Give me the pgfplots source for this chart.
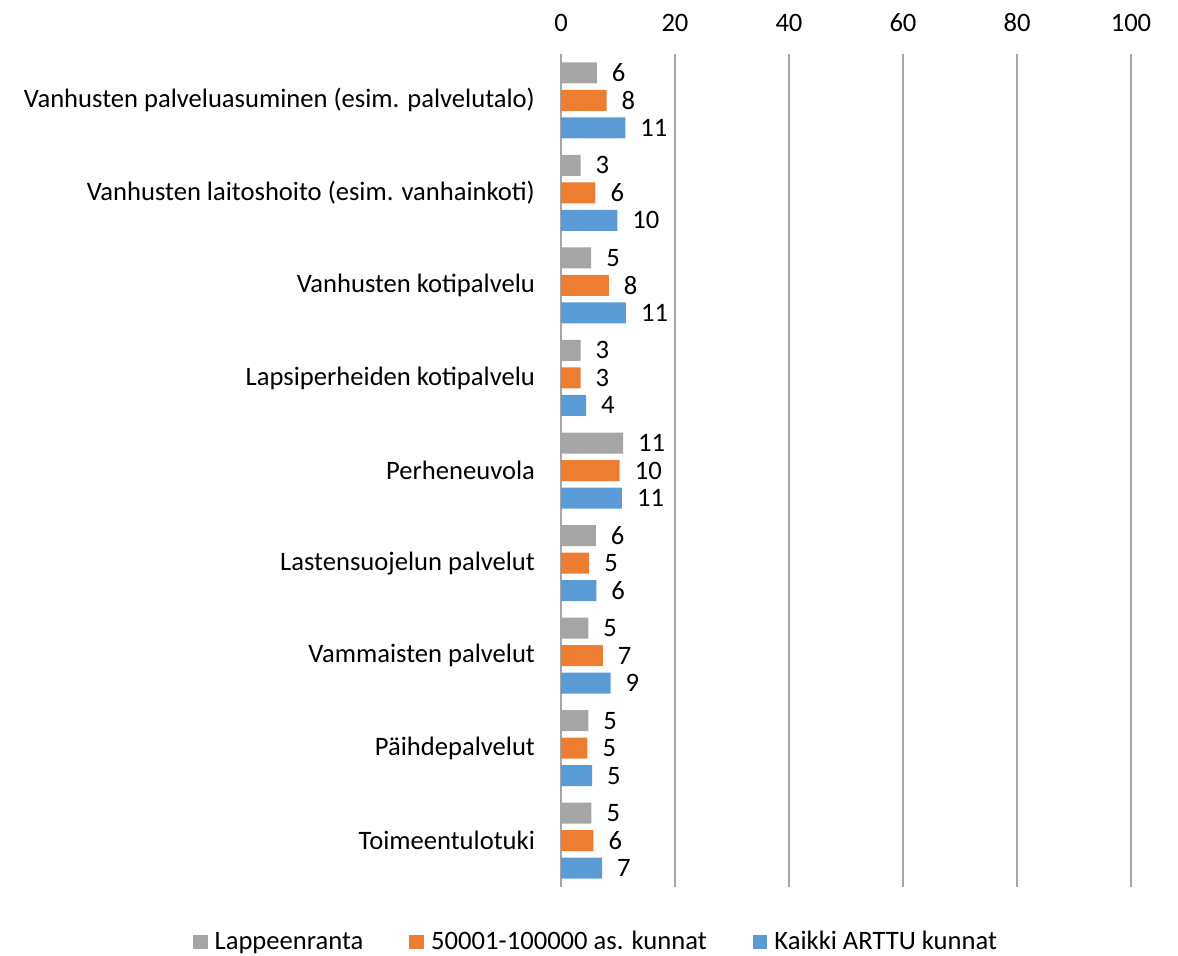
\documentclass[border=0pt]{standalone}
\usepackage{pgfplots}
\pgfplotsset{compat=1.18}
\usepackage{pgfplotstable}
\usepackage{fontspec}
\setmainfont{Carlito}
\definecolor{cgray}{RGB}{165,165,165}
\definecolor{corange}{RGB}{237,125,49}
\definecolor{cblue}{RGB}{91,155,213}
\definecolor{cgrid}{RGB}{166,166,166}
% y = 8 (top) ... 0 (bottom)
\pgfplotstableread{
y x lab
8 6.3 6
7 3.45 3
6 5.3 5
5 3.45 3
4 10.9 11
3 6.1 6
2 4.8 5
1 4.8 5
0 5.35 5
}\tlap
\pgfplotstableread{
y x lab
8 8.0 8
7 6.05 6
6 8.4 8
5 3.45 3
4 10.3 10
3 4.95 5
2 7.35 7
1 4.65 5
0 5.7 6
}\tmid
\pgfplotstableread{
y x lab
8 11.3 11
7 9.9 10
6 11.4 11
5 4.4 4
4 10.7 11
3 6.2 6
2 8.7 9
1 5.45 5
0 7.2 7
}\tall
\pgfplotsset{sqleg/.style={legend image code/.code={\fill[##1,draw=none] (0pt,-3.7pt) rectangle (7.4pt,3.7pt);}}}
\begin{document}
\begin{tikzpicture}
\begin{axis}[
  scale only axis,
  width=285pt, height=416.5pt,
  xmin=0, xmax=100,
  ymin=-0.5, ymax=8.5,
  xtick={0,20,40,60,80,100},
  ytick={0,1,2,3,4,5,6,7,8},
  yticklabels={Toimeentulotuki,Päihdepalvelut,Vammaisten palvelut,Lastensuojelun palvelut,Perheneuvola,Lapsiperheiden kotipalvelu,Vanhusten kotipalvelu,Vanhusten laitoshoito (esim. vanhainkoti),Vanhusten palveluasuminen (esim. palvelutalo)},
  xticklabel pos=top,
  major tick length=0pt,
  axis line style={draw=none},
  xmajorgrids,
  grid style={cgrid, line width=0.7pt},
  /pgf/number format/assume math mode=true,
  tick label style={font=\fontsize{13.3}{15}\selectfont},
  xticklabel style={yshift=7.5pt},
  yticklabel style={xshift=-9.5pt},
  xbar,
  bar width=10.5pt,
  nodes near coords,
  point meta=explicit symbolic,
  every node near coord/.append style={font=\fontsize{13.3}{15}\selectfont, anchor=west, xshift=4pt, black},
  legend columns=3,
  legend style={draw=none, at={(0.063,-0.066)}, anchor=center, font=\fontsize{13.3}{15}\selectfont,
    /tikz/every even column/.append style={column sep=21pt},
    /tikz/every odd column/.append style={column sep=1.5pt}},
]
\addplot[fill=cgray, draw=none, bar shift=13.75pt, sqleg] table[x=x, y=y, meta=lab] {\tlap};
\addplot[fill=corange, draw=none, bar shift=0pt, sqleg] table[x=x, y=y, meta=lab] {\tmid};
\addplot[fill=cblue, draw=none, bar shift=-13.75pt, sqleg] table[x=x, y=y, meta=lab] {\tall};
\legend{Lappeenranta, 50001-100000 as. kunnat, Kaikki ARTTU kunnat}
\end{axis}
\pgfresetboundingbox
\useasboundingbox (-280.5pt,-34pt) rectangle (308.5pt,443.5pt);
\end{tikzpicture}
\end{document}
